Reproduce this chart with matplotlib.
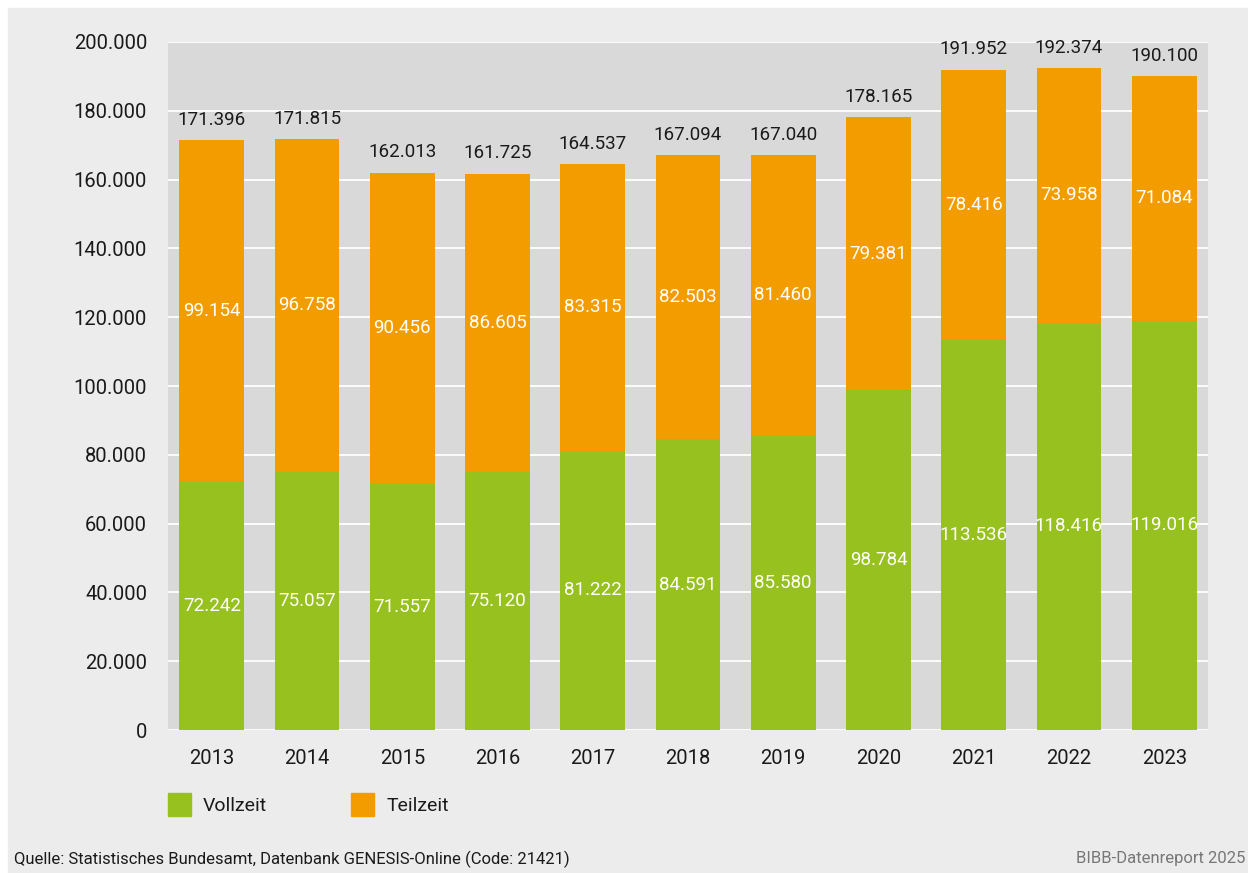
import matplotlib.pyplot as plt
from matplotlib.patches import Rectangle

plt.rcParams['font.family'] = ['Roboto', 'DejaVu Sans']

years = ['2013', '2014', '2015', '2016', '2017', '2018', '2019', '2020', '2021', '2022', '2023']
vollzeit = [72242, 75057, 71557, 75120, 81222, 84591, 85580, 98784, 113536, 118416, 119016]
teilzeit = [99154, 96758, 90456, 86605, 83315, 82503, 81460, 79381, 78416, 73958, 71084]

green = '#97c11f'
orange = '#f39c00'


def fmt(v):
    return f'{v:,}'.replace(',', '.')


fig = plt.figure(figsize=(12.48, 8.73), dpi=100, facecolor='white')
bg = Rectangle((8 / 1248, 0), 1 - 8 / 1248, 1 - 8 / 873,
               transform=fig.transFigure, color='#ececec', zorder=-10)
fig.add_artist(bg)

ax = fig.add_axes([168 / 1248, 1 - 730 / 873, 1040 / 1248, 688 / 873])
ax.set_facecolor('#d9d9d9')

x = range(len(years))
ax.bar(x, vollzeit, width=0.68, color=green, zorder=3)
ax.bar(x, teilzeit, width=0.68, bottom=vollzeit, color=orange, zorder=3)

for i in x:
    v, t = vollzeit[i], teilzeit[i]
    ax.text(i, v / 2, fmt(v), ha='center', va='center', color='white', fontsize=13.5, zorder=4)
    ax.text(i, v + t / 2, fmt(t), ha='center', va='center', color='white', fontsize=13.5, zorder=4)
    ax.text(i, v + t + 3300, fmt(v + t), ha='center', va='bottom', color='#1a1a1a', fontsize=13.5, zorder=4)

ax.set_ylim(0, 200000)
ax.set_xlim(-0.46, 10.46)
ax.set_yticks(range(0, 200001, 20000))
ax.set_yticklabels([fmt(v) for v in range(0, 200001, 20000)], fontsize=14.5, color='#1a1a1a')
ax.set_xticks(list(x))
ax.set_xticklabels(years, fontsize=14.5, color='#1a1a1a')
ax.tick_params(length=0)
ax.tick_params(axis='y', pad=15)
ax.tick_params(axis='x', pad=14)
for s in ax.spines.values():
    s.set_visible(False)
ax.yaxis.grid(True, color='white', linewidth=1.3, zorder=1)
ax.set_axisbelow(True)

# legend
fig.add_artist(Rectangle((168 / 1248, 1 - 816 / 873), 23 / 1248, 23 / 873,
                         transform=fig.transFigure, color=green))
fig.text(203 / 1248, 1 - 806 / 873, 'Vollzeit', fontsize=14, va='center', color='#1a1a1a')
fig.add_artist(Rectangle((351 / 1248, 1 - 816 / 873), 23 / 1248, 23 / 873,
                         transform=fig.transFigure, color=orange))
fig.text(387 / 1248, 1 - 806 / 873, 'Teilzeit', fontsize=14, va='center', color='#1a1a1a')

fig.text(14 / 1248, 1 - 859 / 873, 'Quelle: Statistisches Bundesamt, Datenbank GENESIS-Online (Code: 21421)',
         fontsize=12, va='center', color='#1a1a1a')
fig.text(1245 / 1248, 1 - 859 / 873, 'BIBB-Datenreport 2025', fontsize=12, va='center', ha='right',
         color='#777777')

fig.savefig('out.png', dpi=100, facecolor=fig.get_facecolor())
